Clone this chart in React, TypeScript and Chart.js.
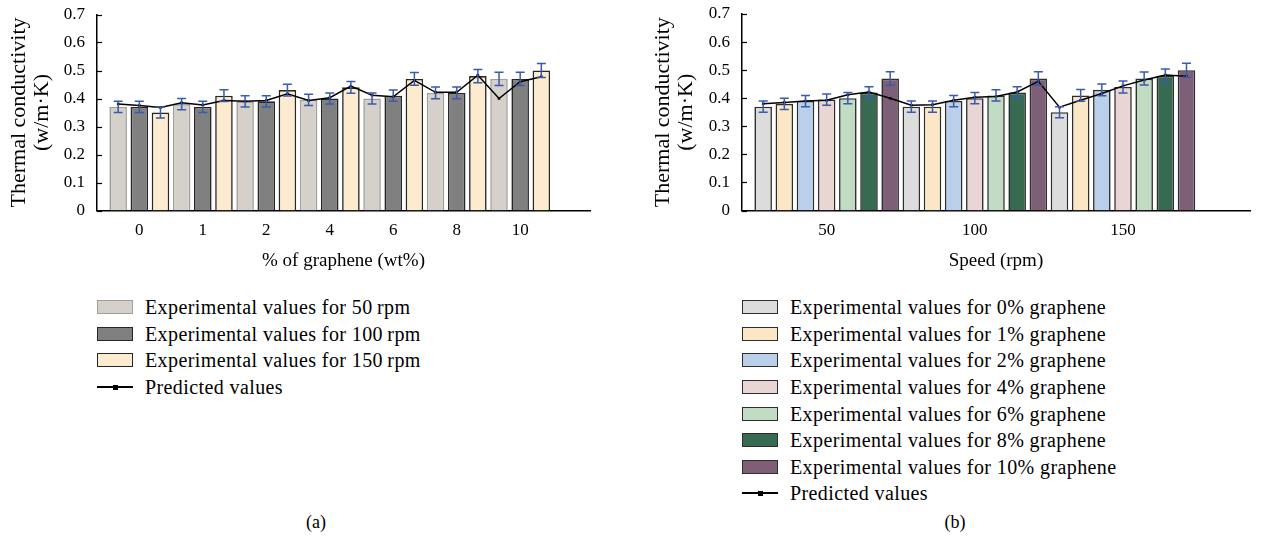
import React, { useEffect, useRef } from 'react';
import { Chart, registerables } from 'chart.js';

Chart.register(...registerables);

// ---------- data ----------
const graphenePct = ['0', '1', '2', '4', '6', '8', '10'];
const speedRpm = ['50', '100', '150'];

// experimental thermal conductivity (w/m·K), per speed, across graphene %
const exp50 = [0.37, 0.38, 0.39, 0.395, 0.40, 0.42, 0.47];
const exp100 = [0.37, 0.37, 0.39, 0.40, 0.41, 0.42, 0.47];
const exp150 = [0.35, 0.41, 0.43, 0.44, 0.47, 0.48, 0.50];

// error (±)
const err50 = [0.02, 0.02, 0.02, 0.02, 0.02, 0.021, 0.024];
const err100 = [0.02, 0.02, 0.02, 0.02, 0.02, 0.021, 0.024];
const err150 = [0.02, 0.021, 0.021, 0.021, 0.023, 0.024, 0.025];

// predicted values
const pred50 = [0.38, 0.385, 0.39, 0.393, 0.412, 0.422, 0.40];
const pred100 = [0.375, 0.377, 0.393, 0.403, 0.406, 0.422, 0.46];
const pred150 = [0.368, 0.393, 0.417, 0.444, 0.465, 0.483, 0.478];

const expBySpeed = [exp50, exp100, exp150];
const errBySpeed = [err50, err100, err150];
const predBySpeed = [pred50, pred100, pred150];

// ---------- styles ----------
const FONT = "'Liberation Serif', 'Times New Roman', serif";
const speedFill = ['#d5d1ca', '#808080', '#fcebcf'];
const speedBorder = ['#a19e99', '#262626', '#262626'];
const pctFill = ['#dcdcdc', '#fbe7c6', '#b9cfea', '#ead5d5', '#c1dcc3', '#366b52', '#7d5f78'];
const pctBorder = '#2e2e2e';
const ERR_COLOR = '#3a5aab';

const errorBarPlugin = {
  id: 'errorBars',
  afterDatasetsDraw(chart: any) {
    const ctx = chart.ctx;
    const ys = chart.scales.y;
    chart.data.datasets.forEach((ds: any, di: number) => {
      if (!ds.errors) return;
      const meta = chart.getDatasetMeta(di);
      meta.data.forEach((bar: any, i: number) => {
        const v = ds.data[i].y;
        const e = ds.errors[i];
        const yt = ys.getPixelForValue(v + e);
        const yb = ys.getPixelForValue(v - e);
        const x = bar.x;
        const cap = 4.5;
        ctx.save();
        ctx.strokeStyle = ERR_COLOR;
        ctx.lineWidth = 1.5;
        ctx.beginPath();
        ctx.moveTo(x, yt);
        ctx.lineTo(x, yb);
        ctx.moveTo(x - cap, yt);
        ctx.lineTo(x + cap, yt);
        ctx.moveTo(x - cap, yb);
        ctx.lineTo(x + cap, yb);
        ctx.stroke();
        ctx.restore();
      });
    });
  },
};

const innerTickPlugin = {
  id: 'innerTicks',
  afterDraw(chart: any) {
    const ctx = chart.ctx;
    const ys = chart.scales.y;
    const left = chart.chartArea.left;
    ctx.save();
    ctx.strokeStyle = '#000';
    ctx.lineWidth = 1.2;
    ys.ticks.forEach((t: any) => {
      const py = Math.round(ys.getPixelForValue(t.value)) + 0.5;
      ctx.beginPath();
      ctx.moveTo(left, py);
      ctx.lineTo(left + 5, py);
      ctx.stroke();
    });
    ctx.restore();
  },
};

function makeOptions(p: {
  xMin: number;
  xMax: number;
  tickVals: number[];
  tickLabels: string[];
  xTitle: string;
  yWidth: number;
  padRight: number;
  padTop: number;
  titlePadTop: number;
}) {
  return {
    responsive: false,
    animation: false,
    layout: { padding: { left: 0, top: p.padTop, right: p.padRight, bottom: 0 } },
    plugins: { legend: { display: false }, tooltip: { enabled: false } },
    scales: {
      x: {
        type: 'linear',
        min: p.xMin,
        max: p.xMax,
        bounds: 'data',
        offset: false,
        grid: { display: false, drawTicks: false, offset: false },
        border: { color: '#000', width: 1.5 },
        afterBuildTicks: (s: any) => {
          s.ticks = p.tickVals.map((v) => ({ value: v }));
        },
        ticks: {
          autoSkip: false,
          maxRotation: 0,
          padding: 10,
          color: '#000',
          font: { family: FONT, size: 17 },
          callback: (_v: any, i: number) => p.tickLabels[i],
        },
        title: {
          display: true,
          text: p.xTitle,
          color: '#000',
          font: { family: FONT, size: 19 },
          padding: { top: 0, bottom: 8 },
        },
        afterFit: (s: any) => {
          s.height = 69.5;
          s.paddingLeft = 0;
          s.paddingRight = 0;
        },
      },
      y: {
        min: 0,
        max: 0.7,
        grid: { display: false, drawTicks: false },
        border: { color: '#000', width: 1.5 },
        ticks: {
          stepSize: 0.1,
          padding: 12,
          color: '#000',
          font: { family: FONT, size: 17 },
          callback: (v: any) => (Math.abs(v) < 1e-9 ? '0' : Number(v).toFixed(1)),
        },
        title: {
          display: true,
          text: ['Thermal conductivity', '(w/m·K)'],
          color: '#000',
          font: { family: FONT, size: 22, lineHeight: 1.05 },
          padding: { top: p.titlePadTop, bottom: 0 },
        },
        afterFit: (s: any) => {
          s.width = p.yWidth;
          s.paddingTop = 0;
          s.paddingBottom = 0;
        },
      },
    },
  };
}

function buildConfigA() {
  const lineData: { x: number; y: number }[] = [];
  graphenePct.forEach((_g, j) => {
    speedRpm.forEach((_s, i) => {
      lineData.push({ x: 3 * j + i, y: predBySpeed[i][j] });
    });
  });
  const datasets: any[] = [
    {
      type: 'line',
      label: 'Predicted values',
      data: lineData,
      borderColor: '#000',
      backgroundColor: '#000',
      borderWidth: 1.5,
      pointStyle: 'rect',
      pointRadius: 1.8,
      pointBackgroundColor: '#000',
      pointBorderWidth: 0,
      tension: 0,
      order: 0,
    },
    ...speedRpm.map((s, i) => ({
      type: 'bar',
      label: `Experimental values for ${s} rpm`,
      data: graphenePct.map((_g, j) => ({ x: 3 * j + i, y: expBySpeed[i][j] })),
      errors: errBySpeed[i],
      backgroundColor: speedFill[i],
      borderColor: speedBorder[i],
      borderWidth: 1.6,
      grouped: false,
      barPercentage: 0.83,
      categoryPercentage: 1,
      order: 1,
    })),
  ];
  return {
    type: 'bar',
    data: { datasets },
    options: makeOptions({
      xMin: -1,
      xMax: 22.3,
      tickVals: graphenePct.map((_g, j) => 3 * j + 1),
      tickLabels: graphenePct,
      xTitle: '% of graphene (wt%)',
      yWidth: 97,
      padRight: 40,
      padTop: 14.5,
      titlePadTop: 7.5,
    }),
    plugins: [errorBarPlugin, innerTickPlugin],
  };
}

function buildConfigB() {
  const lineData: { x: number; y: number }[] = [];
  speedRpm.forEach((_s, i) => {
    graphenePct.forEach((_g, j) => {
      lineData.push({ x: 7 * i + j, y: predBySpeed[i][j] });
    });
  });
  const datasets: any[] = [
    {
      type: 'line',
      label: 'Predicted values',
      data: lineData,
      borderColor: '#000',
      backgroundColor: '#000',
      borderWidth: 1.5,
      pointStyle: 'rect',
      pointRadius: 1.8,
      pointBackgroundColor: '#000',
      pointBorderWidth: 0,
      tension: 0,
      order: 0,
    },
    ...graphenePct.map((g, j) => ({
      type: 'bar',
      label: `Experimental values for ${g}% graphene`,
      data: speedRpm.map((_s, i) => ({ x: 7 * i + j, y: expBySpeed[i][j] })),
      errors: speedRpm.map((_s, i) => errBySpeed[i][j]),
      backgroundColor: pctFill[j],
      borderColor: pctBorder,
      borderWidth: 1.6,
      grouped: false,
      barPercentage: 0.83,
      categoryPercentage: 1,
      order: 1,
    })),
  ];
  return {
    type: 'bar',
    data: { datasets },
    options: makeOptions({
      xMin: -1,
      xMax: 23,
      tickVals: speedRpm.map((_s, i) => 7 * i + 3),
      tickLabels: speedRpm,
      xTitle: 'Speed (rpm)',
      yWidth: 102,
      padRight: 18,
      padTop: 14,
      titlePadTop: 11.5,
    }),
    plugins: [errorBarPlugin, innerTickPlugin],
  };
}

function ChartCanvas(props: { build: () => any; left: number; width: number; height: number }) {
  const ref = useRef<HTMLCanvasElement | null>(null);
  useEffect(() => {
    if (!ref.current) return;
    const chart = new Chart(ref.current, props.build());
    return () => chart.destroy();
  }, []);
  return (
    <canvas
      ref={ref}
      width={props.width}
      height={props.height}
      style={{ position: 'absolute', left: props.left, top: 0, width: props.width, height: props.height }}
    />
  );
}

type LegendItem = { label: string; fill?: string; border?: string; line?: boolean };

function Legend(props: { items: LegendItem[]; left: number; top: number }) {
  return (
    <div style={{ position: 'absolute', left: props.left, top: props.top }}>
      {props.items.map((it, k) => (
        <div key={k} style={{ display: 'flex', alignItems: 'center', height: 26.6 }}>
          {it.line ? (
            <div style={{ position: 'relative', width: 36, height: 14, marginRight: 12 }}>
              <div style={{ position: 'absolute', left: 0, top: 6, width: 36, height: 1.5, background: '#000' }} />
              <div style={{ position: 'absolute', left: 15.5, top: 4.5, width: 5, height: 5, background: '#000' }} />
            </div>
          ) : (
            <div
              style={{
                width: 36,
                height: 14,
                boxSizing: 'border-box',
                border: `1.6px solid ${it.border}`,
                background: it.fill,
                marginRight: 12,
              }}
            />
          )}
          <span
            style={{
              fontFamily: FONT,
              fontSize: 20,
              letterSpacing: 0.4,
              color: '#000',
              whiteSpace: 'nowrap',
              lineHeight: '20px',
            }}
          >
            {it.label}
          </span>
        </div>
      ))}
    </div>
  );
}

export default function App() {
  const legendA: LegendItem[] = [
    ...speedRpm.map((s, i) => ({ label: `Experimental values for ${s}\u2009rpm`, fill: speedFill[i], border: speedBorder[i] })),
    { label: 'Predicted values', line: true },
  ];
  const legendB: LegendItem[] = [
    ...graphenePct.map((g, j) => ({ label: `Experimental values for ${g}% graphene`, fill: pctFill[j], border: pctBorder })),
    { label: 'Predicted values', line: true },
  ];
  return (
    <div style={{ position: 'absolute', left: 0, top: 0, width: 1268, height: 541, background: '#fff', overflow: 'hidden' }}>
      <ChartCanvas build={buildConfigA} left={0} width={630} height={280} />
      <ChartCanvas build={buildConfigB} left={640} width={628} height={280} />
      <Legend items={legendA} left={97} top={294} />
      <Legend items={legendB} left={742} top={294} />
      <div style={{ position: 'absolute', left: 266, width: 100, top: 512, textAlign: 'center', fontFamily: FONT, fontSize: 18, color: '#000' }}>
        (a)
      </div>
      <div style={{ position: 'absolute', left: 905, width: 100, top: 512, textAlign: 'center', fontFamily: FONT, fontSize: 18, color: '#000' }}>
        (b)
      </div>
    </div>
  );
}
